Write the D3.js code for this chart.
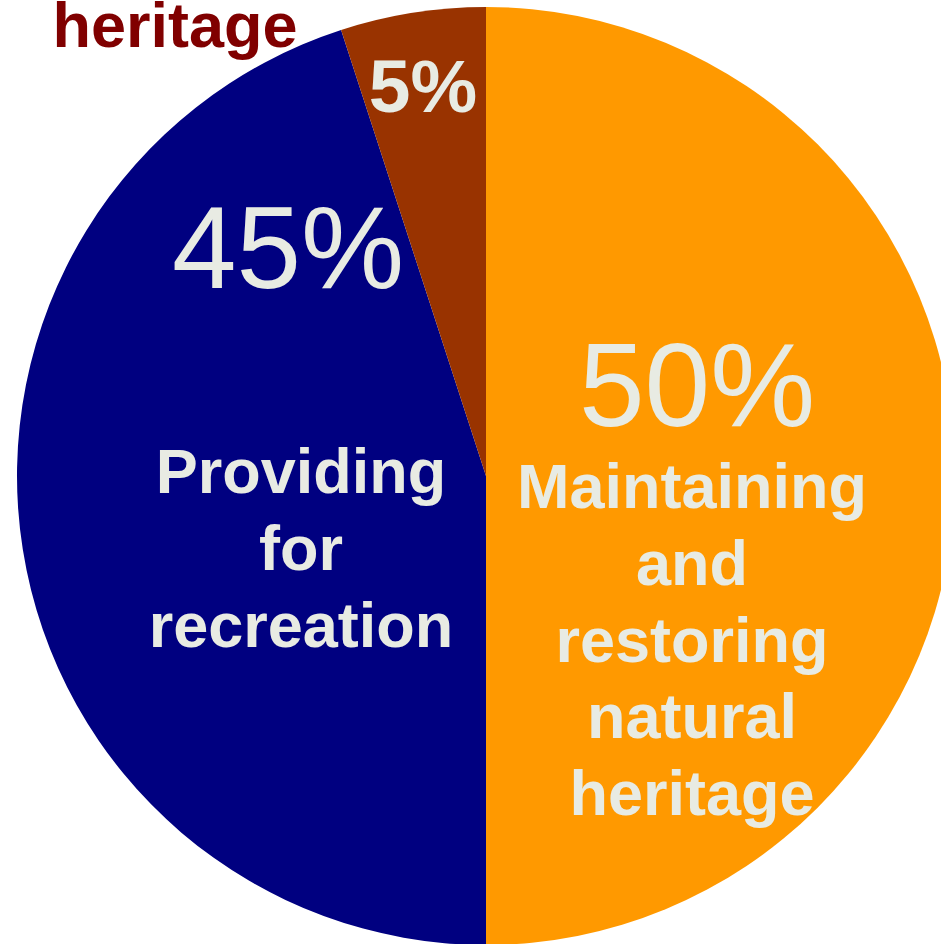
<!DOCTYPE html>
<html>
<head>
<meta charset="utf-8">
<script src="https://cdn.jsdelivr.net/npm/d3@7"></script>
<style>
  body { margin: 0; background: #fff; }
  text { font-family: Arial, "Liberation Sans", sans-serif; }
</style>
</head>
<body>
<div id="pie"></div>
<script>
const categories = ["Maintaining and restoring natural heritage", "Providing for recreation", "Cultural heritage"]
const values = [50, 45, 5]
const colors = ["#ff9900", "#000080", "#993300"]
const pctLabels = ["50%", "45%", "5%"]

const width = 941, height = 944
const cx = 486, cy = 476, radius = 469

const svg = d3.select("#pie")
  .append("svg")
  .attr("width", width)
  .attr("height", height)

const g = svg.append("g")
  .attr("transform", `translate(${cx}, ${cy})`)

const pie = d3.pie().sort(null).value(d => d)
const arc = d3.arc().innerRadius(0).outerRadius(radius)

const color = d3.scaleOrdinal()
  .domain(categories)
  .range(colors)

const arcs = pie(values)

g.selectAll("path")
  .data(arcs)
  .join("path")
    .attr("d", arc)
    .attr("fill", (d, i) => color(categories[i]))

const textColor = "#e8ebe3"

// percent labels (offsets from centre)
const pctPos = [
  {x: 211, y: -50, size: 118, weight: "normal"},
  {x: -198, y: -188, size: 116, weight: "normal"},
  {x: -63, y: -364, size: 75, weight: "bold"}
]
g.selectAll(".pct")
  .data(pctLabels)
  .join("text")
    .attr("class", "pct")
    .attr("x", (d, i) => pctPos[i].x)
    .attr("y", (d, i) => pctPos[i].y)
    .attr("text-anchor", "middle")
    .attr("fill", textColor)
    .attr("font-size", (d, i) => pctPos[i].size + "px")
    .attr("font-weight", (d, i) => pctPos[i].weight)
    .text(d => d)

// category labels, wrapped
function addLines(lines, x, y, fill) {
  const t = g.append("text")
    .attr("text-anchor", "middle")
    .attr("fill", fill)
    .attr("font-size", "63px")
    .attr("font-weight", "bold")
  lines.forEach((line, i) => {
    t.append("tspan")
      .attr("x", x)
      .attr("y", y + i * 76.8)
      .text(line)
  })
}
addLines(["Maintaining", "and", "restoring", "natural", "heritage"], 206, 32, textColor)
addLines(["Providing", "for", "recreation"], -185, 17, textColor)
addLines(["heritage"], -311, -429, "#800000")
</script>
</body>
</html>
